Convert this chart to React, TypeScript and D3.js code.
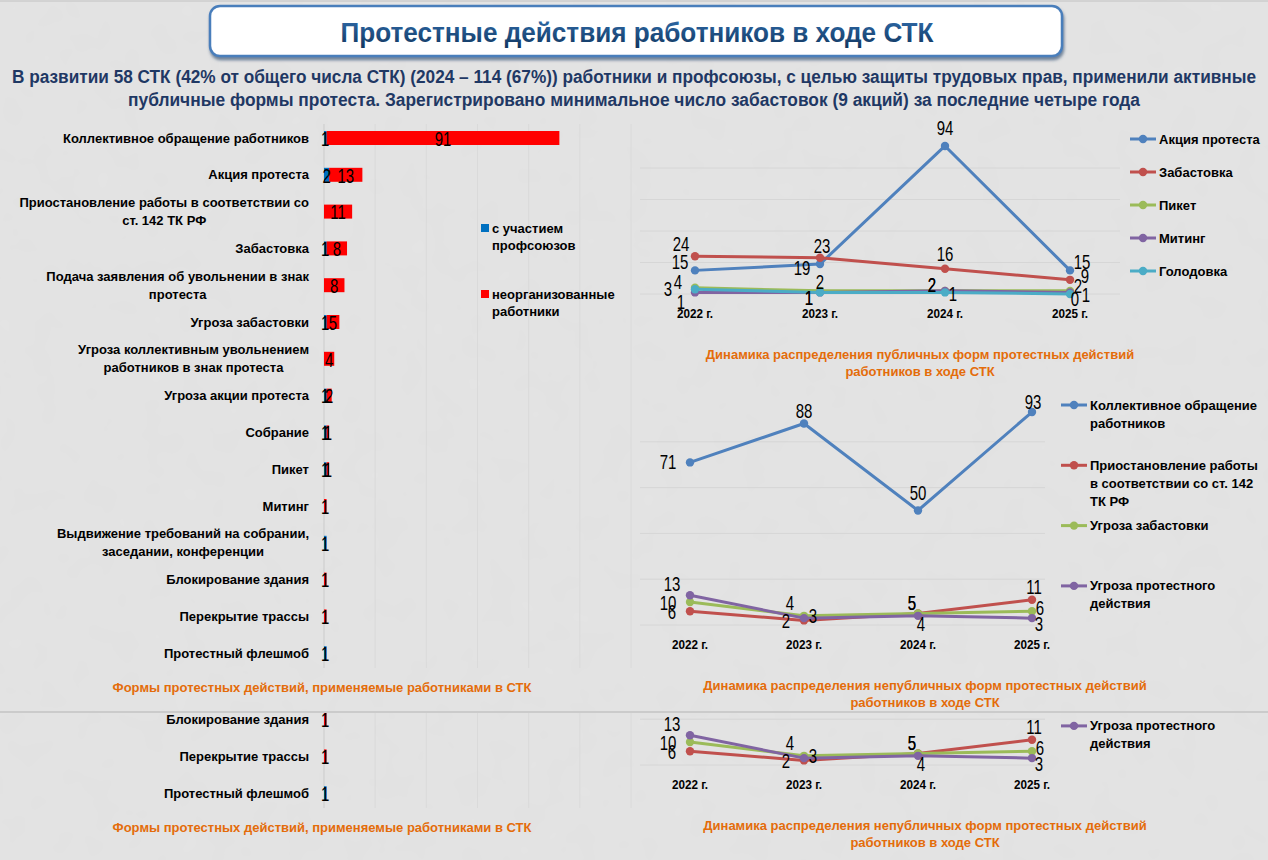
import { useEffect, useRef } from 'react';
import * as d3 from 'd3';

const W = 1268;
const H = 860;

// forms of protest actions (left bar chart)
const forms = [
  'Коллективное обращение работников',
  'Акция протеста',
  'Приостановление работы в соответствии со\nст. 142 ТК РФ',
  'Забастовка',
  'Подача заявления об увольнении в знак\nпротеста',
  'Угроза забастовки',
  'Угроза коллективным увольнением\nработников в знак протеста',
  'Угроза акции протеста',
  'Собрание',
  'Пикет',
  'Митинг',
  'Выдвижение требований на собрании,\nзаседании, конференции',
  'Блокирование здания',
  'Перекрытие трассы',
  'Протестный флешмоб',
];
const withUnion = [1, 2, 0, 1, 0, 1, 0, 1, 1, 1, 0, 1, 0, 0, 1];
const unorganized = [91, 13, 11, 8, 8, 5, 4, 2, 1, 1, 1, 0, 1, 1, 0];
const barSeries = ['с участием\nпрофсоюзов', 'неорганизованные\nработники'];

const years = ['2022 г.', '2023 г.', '2024 г.', '2025 г.'];

// public forms
const publicNames = ['Акция протеста', 'Забастовка', 'Пикет', 'Митинг', 'Голодовка'];
const protestAction = [15, 19, 94, 15];
const strike = [24, 23, 16, 9];
const picket = [4, 2, 2, 2];
const rally = [1, 1, 2, 1];
const hungerStrike = [3, 1, 1, 0];

// non-public forms
const privateNames = [
  'Коллективное обращение\nработников',
  'Приостановление работы\nв соответствии со ст. 142\nТК РФ',
  'Угроза забастовки',
  'Угроза протестного\nдействия',
];
const collectiveAppeal = [71, 88, 50, 93];
const workStoppage = [6, 2, 5, 11];
const strikeThreat = [10, 4, 5, 6];
const actionThreat = [13, 3, 4, 3];

const lineColors = ['#4F81BD', '#C0504D', '#9BBB59', '#8064A2', '#4BACC6'];

// label nudges (dx, dy) per series and year
const publicLabelShift = [
  [[-15, -8], [-18, 4], [0, -18], [12, -8]],
  [[-14, -12], [2, -12], [0, -15], [15, -4]],
  [[-17, -5], [0, -9], [-13, -6], [8, -5]],
  [[-14, 10], [-11, 6], [-13, -6], [16, 3]],
  [[-27, 0], [-11, 6], [8, 2], [5, 5]],
];
const privateLabelShift = [
  [[-22, 0], [0, -12], [0, -17], [1, -10]],
  [[-18, 1], [-18, 1], [-6, -10], [2, -13]],
  [[-22, 1], [-14, -13], [-6, -10], [8, -3]],
  [[-18, -11], [9, -2], [3, 8], [7, 6]],
];

const FONT = "'Liberation Sans', Arial, sans-serif";
const ORANGE = '#E46C0A';

type G = d3.Selection<SVGGElement, unknown, null, undefined>;

interface TextOpts {
  size: number;
  weight?: string;
  anchor?: string;
  fill?: string;
  sx?: number;
}

const put = (g: G, x: number, y: number, txt: string, o: TextOpts) =>
  g
    .append('text')
    .attr('transform', `translate(${x},${y}) scale(${o.sx ?? 1},1)`)
    .attr('text-anchor', o.anchor ?? 'start')
    .attr('dominant-baseline', 'central')
    .attr('font-family', FONT)
    .attr('font-size', o.size)
    .attr('font-weight', o.weight ?? 'normal')
    .attr('fill', o.fill ?? '#000')
    .text(txt);

const drawBars = (g: G) => {
  const x = d3.scaleLinear().domain([0, 120]).range([324, 631]);
  const y = d3
    .scaleBand<string>()
    .domain(forms)
    .range([119.6, 671.6])
    .paddingInner(0.62)
    .paddingOuter(0.31);

  g.append('g')
    .selectAll('line')
    .data(x.ticks(6))
    .enter()
    .append('line')
    .attr('x1', d => x(d))
    .attr('x2', d => x(d))
    .attr('y1', 124)
    .attr('y2', 668)
    .attr('stroke', d => (d === 0 ? '#cbcbcb' : '#dadada'))
    .attr('stroke-width', 1);

  // category labels, wrapped lines centred on each other
  forms.forEach(name => {
    const lines = name.split('\n');
    const cy = (y(name) ?? 0) + y.bandwidth() / 2;
    if (lines.length === 1) {
      put(g, 309, cy, name, { size: 13, weight: 'bold', anchor: 'end' });
      return;
    }
    const nodes = lines.map(l => put(g, 0, 0, l, { size: 13, weight: 'bold', anchor: 'middle' }));
    const maxW = d3.max(nodes, n => (n.node() as SVGTextElement).getComputedTextLength()) ?? 0;
    nodes.forEach((n, i) =>
      n.attr('transform', `translate(${309 - maxW / 2},${cy + (i - (lines.length - 1) / 2) * 18})`)
    );
  });

  const stacked = forms.map((f, i) => ({ f, a: withUnion[i], b: unorganized[i] }));
  stacked.forEach(d => {
    const top = y(d.f) ?? 0;
    const cy = top + y.bandwidth() / 2;
    if (d.a > 0)
      g.append('rect')
        .attr('x', x(0))
        .attr('y', top)
        .attr('width', x(d.a) - x(0))
        .attr('height', y.bandwidth())
        .attr('fill', '#0070C0');
    if (d.b > 0)
      g.append('rect')
        .attr('x', x(d.a))
        .attr('y', top)
        .attr('width', x(d.a + d.b) - x(d.a))
        .attr('height', y.bandwidth())
        .attr('fill', '#FF0000');
    if (d.a > 0) put(g, (x(0) + x(d.a)) / 2, cy + 1, String(d.a), { size: 20, anchor: 'middle', sx: 0.75 });
    if (d.b > 0) put(g, (x(d.a) + x(d.a + d.b)) / 2, cy + 1, String(d.b), { size: 20, anchor: 'middle', sx: 0.75 });
  });

  // legend
  const swatch = ['#0070C0', '#FF0000'];
  barSeries.forEach((s, i) => {
    const ly = 228 + i * 66;
    g.append('rect').attr('x', 481).attr('y', ly - 4).attr('width', 8).attr('height', 8).attr('fill', swatch[i]);
    s.split('\n').forEach((l, j) => put(g, 492, ly + j * 17, l, { size: 13, weight: 'bold' }));
  });

  put(g, 322, 687, 'Формы протестных действий, применяемые работниками в СТК', {
    size: 13,
    weight: 'bold',
    anchor: 'middle',
    fill: ORANGE,
  });
};

interface LineChartCfg {
  names: string[];
  series: number[][];
  shifts: number[][][];
  xRange: [number, number];
  yRange: [number, number];
  gridX: [number, number];
  yearY: number;
  legendX: number;
  legendY: number;
  legendStep: number;
  caption: string[];
  captionX: number;
  captionY: number;
}

const drawLines = (g: G, c: LineChartCfg) => {
  const x = d3.scalePoint<string>().domain(years).range(c.xRange);
  const y = d3.scaleLinear().domain([0, 100]).range(c.yRange);

  g.append('g')
    .selectAll('line')
    .data(d3.range(0, 100, 20))
    .enter()
    .append('line')
    .attr('x1', c.gridX[0])
    .attr('x2', c.gridX[1])
    .attr('y1', d => y(d))
    .attr('y2', d => y(d))
    .attr('stroke', '#d6d6d6')
    .attr('stroke-width', 1);

  const line = d3
    .line<number>()
    .x((_, i) => x(years[i]) ?? 0)
    .y(d => y(d));

  c.series.forEach((vals, s) => {
    g.append('path')
      .attr('d', line(vals))
      .attr('fill', 'none')
      .attr('stroke', lineColors[s])
      .attr('stroke-width', 3)
      .attr('stroke-linejoin', 'round');
    vals.forEach((v, i) =>
      g.append('circle')
        .attr('cx', x(years[i]) ?? 0)
        .attr('cy', y(v))
        .attr('r', 4.2)
        .attr('fill', lineColors[s])
    );
  });

  c.series.forEach((vals, s) =>
    vals.forEach((v, i) => {
      const [dx, dy] = c.shifts[s][i];
      put(g, (x(years[i]) ?? 0) + dx, y(v) + dy, String(v), { size: 20, anchor: 'middle', sx: 0.75 });
    })
  );

  years.forEach(yr =>
    put(g, x(yr) ?? 0, c.yearY, yr, { size: 13, weight: 'bold', anchor: 'middle', sx: 0.9 })
  );

  c.names.forEach((n, s) => {
    const ly = c.legendY + s * c.legendStep;
    g.append('line')
      .attr('x1', c.legendX)
      .attr('x2', c.legendX + 26)
      .attr('y1', ly)
      .attr('y2', ly)
      .attr('stroke', lineColors[s])
      .attr('stroke-width', 3);
    g.append('circle').attr('cx', c.legendX + 13).attr('cy', ly).attr('r', 4.2).attr('fill', lineColors[s]);
    n.split('\n').forEach((l, j) => put(g, c.legendX + 29, ly + j * 18, l, { size: 13, weight: 'bold' }));
  });

  c.caption.forEach((l, j) =>
    put(g, c.captionX, c.captionY + j * 17.5, l, { size: 13, weight: 'bold', anchor: 'middle', fill: ORANGE })
  );
};

const drawPanels = (g: G) => {
  drawBars(g);
  drawLines(g, {
    names: publicNames,
    series: [protestAction, strike, picket, rally, hungerStrike],
    shifts: publicLabelShift,
    xRange: [695, 1070],
    yRange: [294, 136.5],
    gridX: [640, 1120],
    yearY: 314,
    legendX: 1130,
    legendY: 139,
    legendStep: 33,
    caption: ['Динамика распределения публичных форм протестных действий', 'работников в ходе СТК'],
    captionX: 920,
    captionY: 354,
  });
  drawLines(g, {
    names: privateNames,
    series: [collectiveAppeal, workStoppage, strikeThreat, actionThreat],
    shifts: privateLabelShift,
    xRange: [690, 1032],
    yRange: [625, 396],
    gridX: [640, 1045],
    yearY: 645,
    legendX: 1061,
    legendY: 405,
    legendStep: 60.3,
    caption: ['Динамика распределения непубличных форм протестных действий', 'работников в ходе СТК'],
    captionX: 925,
    captionY: 685,
  });
};

export default function App() {
  const ref = useRef<SVGSVGElement | null>(null);

  useEffect(() => {
    const svg = d3.select(ref.current);
    svg.selectAll('*').remove();
    const defs = svg.append('defs');

    const grad = defs
      .append('linearGradient')
      .attr('id', 'titleFill')
      .attr('x1', 0)
      .attr('y1', 0)
      .attr('x2', 0)
      .attr('y2', 1);
    grad.append('stop').attr('offset', '0%').attr('stop-color', '#2F6BAA');
    grad.append('stop').attr('offset', '100%').attr('stop-color', '#11365F');

    const shadow = defs.append('filter').attr('id', 'boxShadow').attr('x', '-5%').attr('y', '-20%').attr('width', '110%').attr('height', '160%');
    shadow
      .append('feDropShadow')
      .attr('dx', 1)
      .attr('dy', 3)
      .attr('stdDeviation', 1.5)
      .attr('flood-color', '#3b5778')
      .attr('flood-opacity', 0.7);

    const noise = defs.append('filter').attr('id', 'grain');
    noise.append('feTurbulence').attr('type', 'fractalNoise').attr('baseFrequency', 0.035).attr('numOctaves', 2).attr('seed', 4);
    noise.append('feColorMatrix').attr('type', 'matrix').attr('values', '0 0 0 0 0.5  0 0 0 0 0.5  0 0 0 0 0.5  0 0 0 0.06 0');

    svg.append('rect').attr('width', W).attr('height', H).attr('fill', '#e4e4e4');
    svg.append('rect').attr('width', W).attr('height', H).attr('filter', 'url(#grain)');
    svg.append('line').attr('x1', 0).attr('x2', W).attr('y1', 1).attr('y2', 1).attr('stroke', '#c2c2c2');

    // title plate
    svg.append('rect')
      .attr('x', 210)
      .attr('y', 6)
      .attr('width', 852)
      .attr('height', 50)
      .attr('rx', 10)
      .attr('fill', '#fff')
      .attr('stroke', '#4A7EBB')
      .attr('stroke-width', 2.5)
      .attr('filter', 'url(#boxShadow)');
    svg.append('text')
      .attr('x', 637)
      .attr('y', 33)
      .attr('text-anchor', 'middle')
      .attr('dominant-baseline', 'central')
      .attr('font-family', FONT)
      .attr('font-size', 27)
      .attr('font-weight', 'bold')
      .attr('fill', 'url(#titleFill)')
      .attr('textLength', 593)
      .attr('lengthAdjust', 'spacingAndGlyphs')
      .text('Протестные действия работников в ходе СТК');

    const sub = [
      'В развитии 58 СТК (42% от общего числа СТК) (2024 – 114 (67%)) работники и профсоюзы, с целью защиты трудовых прав, применили активные',
      'публичные формы протеста. Зарегистрировано минимальное число забастовок (9 акций) за последние четыре года',
    ];
    const subLen = [1244, 1012];
    sub.forEach((s, i) =>
      svg.append('text')
        .attr('x', 634)
        .attr('y', 77 + i * 23)
        .attr('text-anchor', 'middle')
        .attr('dominant-baseline', 'central')
        .attr('font-family', FONT)
        .attr('font-size', 17.5)
        .attr('font-weight', 'bold')
        .attr('fill', '#1F3864')
        .attr('textLength', subLen[i])
        .attr('lengthAdjust', 'spacingAndGlyphs')
        .text(s)
    );

    const main = svg.append('g') as unknown as G;
    drawPanels(main);

    // repeated lower strip
    defs.append('clipPath').attr('id', 'strip').append('rect').attr('x', 0).attr('y', 713).attr('width', W).attr('height', H - 713);
    const copy = svg
      .append('g')
      .attr('clip-path', 'url(#strip)')
      .append('g')
      .attr('transform', 'translate(0,140)') as unknown as G;
    drawPanels(copy);

    svg.append('line').attr('x1', 0).attr('x2', W).attr('y1', 712).attr('y2', 712).attr('stroke', '#b4b4b4').attr('stroke-width', 1.2);
  }, []);

  return (
    <svg
      ref={ref}
      width={W}
      height={H}
      style={{ position: 'absolute', left: 0, top: 0, display: 'block' }}
    />
  );
}
